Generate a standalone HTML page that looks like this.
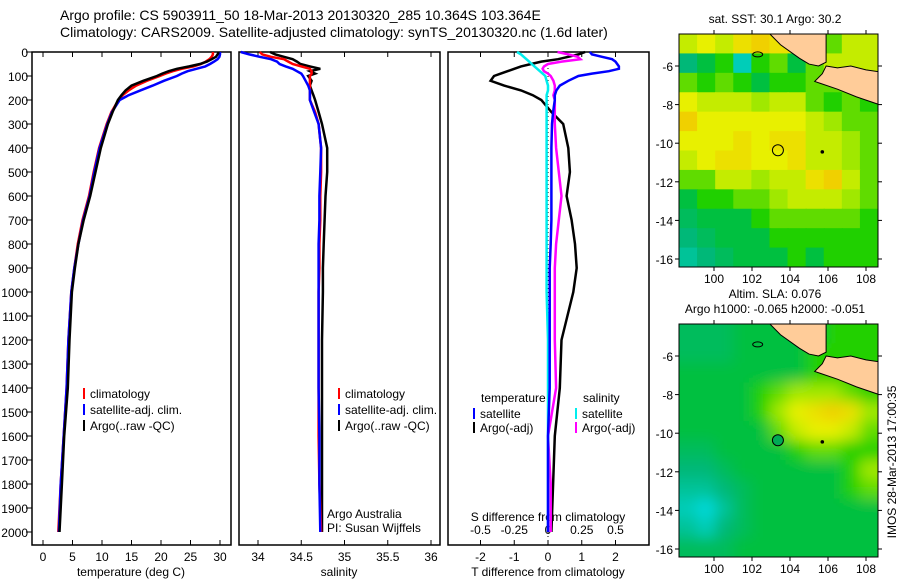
<!DOCTYPE html>
<html><head><meta charset="utf-8"><style>
body{margin:0;background:#fff;}
svg{display:block;font-family:"Liberation Sans",sans-serif;}
</style></head><body>
<svg id="fig" width="900" height="580" viewBox="0 0 900 580" xmlns="http://www.w3.org/2000/svg">
<rect width="900" height="580" fill="#fff"/>
<text x="60" y="20" font-size="14">Argo profile: CS 5903911_50 18-Mar-2013 20130320_285 10.364S 103.364E</text>
<text x="60" y="37" font-size="14">Climatology: CARS2009. Satellite-adjusted climatology: synTS_20130320.nc (1.6d later)</text>
<g id="g"></g>
<text transform="translate(896,462) rotate(-90)" text-anchor="middle" font-size="12">IMOS 28-Mar-2013 17:00:35</text>
</svg>
<script>
const depths=[0,10,20,30,40,50,60,70,80,90,100,120,140,160,180,200,250,300,400,500,600,700,800,900,1000,1200,1400,1600,1800,2000];
const depthTicks=[0,100,200,300,400,500,600,700,800,900,1000,1100,1200,1300,1400,1500,1600,1700,1800,1900,2000];
const argoT=[29.8,29.6,29.3,28.6,27.8,26.6,24.8,22.7,21.3,20.2,19.3,17.0,15.0,14.0,13.3,12.7,11.8,11.0,9.8,8.9,8.0,6.9,6.0,5.4,4.9,4.5,4.2,3.6,3.2,2.8];
const climT=[28.8,28.8,28.6,28.2,27.6,26.8,25.5,23.5,22.0,20.8,19.8,17.6,15.8,14.5,13.5,12.8,11.6,10.8,9.5,8.6,7.8,6.7,5.9,5.3,4.8,4.3,4.0,3.5,3.0,2.6];
const satT=[30.0,30.0,29.9,29.6,29.0,28.3,27.5,26.0,24.5,23.5,22.7,20.5,18.6,16.5,14.5,13.0,11.7,10.9,9.6,8.7,7.9,6.8,6.0,5.3,4.8,4.3,4.0,3.5,3.0,2.7];
const argoS=[34.14,34.2,34.3,34.4,34.45,34.49,34.6,34.72,34.6,34.66,34.58,34.62,34.6,34.62,34.64,34.66,34.70,34.74,34.80,34.80,34.78,34.77,34.76,34.75,34.75,34.74,34.74,34.74,34.74,34.74];
const climS=[34.02,34.05,34.15,34.3,34.35,34.4,34.5,34.6,34.62,34.62,34.6,34.6,34.6,34.6,34.6,34.6,34.66,34.70,34.73,34.73,34.72,34.72,34.71,34.71,34.70,34.70,34.70,34.70,34.71,34.73];
const satS=[33.8,33.9,34.02,34.15,34.22,34.25,34.32,34.4,34.45,34.5,34.52,34.55,34.58,34.6,34.6,34.6,34.65,34.70,34.73,34.72,34.71,34.71,34.70,34.70,34.70,34.70,34.70,34.71,34.71,34.72];
const satDT=[1.24,1.3,1.6,1.9,2.0,2.05,2.1,2.1,1.8,1.3,0.9,0.6,0.35,0.25,0.2,0.2,0.15,0.12,0.1,0.1,0.1,0.1,0.08,0.05,0.05,0.05,0.05,0.0,0.0,0.0];
const argoDT=[1.1,0.9,0.6,0.3,-0.2,-0.5,-0.8,-1.0,-1.2,-1.4,-1.6,-1.7,-1.3,-0.8,-0.45,-0.2,0.1,0.45,0.6,0.65,0.55,0.7,0.8,0.85,0.75,0.4,0.35,0.2,0.15,0.1];
const satDS=[-0.23,-0.2,-0.18,-0.16,-0.14,-0.12,-0.1,-0.08,-0.06,-0.04,-0.02,-0.01,0,0,-0.01,-0.01,-0.01,-0.01,-0.01,-0.01,-0.01,-0.01,-0.01,-0.01,-0.01,0,0,0,0,0];
const argoDS=[0.07,0.15,0.22,0.24,0.1,0.0,-0.03,-0.04,-0.03,0,0.02,0.04,0.05,0.05,0.04,0.05,0.05,0.05,0.06,0.08,0.1,0.08,0.06,0.05,0.05,0.05,0.06,0.0,0.02,0.02];
const tTicks=[0,5,10,15,20,25,30];
const sTicks=[34,34.5,35,35.5,36];
const dtTicks=[-2,-1,0,1,2];
const dsTicks=[-0.5,-0.25,0,0.25,0.5];
const sstGrid=[
[0.7,0.75,0.7,0.8,0.85,0.8,0.8,0.8,0.6,0.7,0.7],
[0.4,0.5,0.55,0.3,0.55,0.6,0.5,0.6,0.7,0.7,0.7],
[0.6,0.55,0.6,0.55,0.5,0.55,0.55,0.6,0.6,0.6,0.6],
[0.75,0.7,0.7,0.7,0.65,0.7,0.7,0.6,0.55,0.6,0.55],
[0.85,0.75,0.75,0.75,0.75,0.75,0.75,0.7,0.65,0.6,0.6],
[0.75,0.75,0.75,0.8,0.75,0.8,0.8,0.7,0.7,0.65,0.6],
[0.7,0.75,0.8,0.8,0.75,0.75,0.8,0.7,0.7,0.65,0.6],
[0.6,0.6,0.7,0.7,0.65,0.7,0.7,0.8,0.85,0.7,0.6],
[0.5,0.55,0.55,0.6,0.6,0.65,0.7,0.7,0.7,0.65,0.6],
[0.45,0.5,0.5,0.5,0.55,0.6,0.6,0.6,0.6,0.6,0.55],
[0.4,0.45,0.5,0.5,0.5,0.55,0.55,0.55,0.55,0.55,0.55],
[0.35,0.4,0.45,0.5,0.5,0.5,0.55,0.5,0.55,0.55,0.55]];
const slaGrid=[
[0.45,0.45,0.45,0.5,0.5,0.5,0.5,0.5,0.55,0.55,0.55],
[0.45,0.45,0.45,0.5,0.5,0.5,0.5,0.55,0.55,0.55,0.55],
[0.5,0.5,0.5,0.5,0.5,0.5,0.5,0.55,0.55,0.55,0.55],
[0.5,0.5,0.5,0.5,0.55,0.6,0.65,0.65,0.65,0.6,0.55],
[0.5,0.5,0.5,0.5,0.55,0.65,0.75,0.8,0.85,0.8,0.65],
[0.5,0.5,0.5,0.5,0.5,0.6,0.7,0.75,0.75,0.7,0.6],
[0.45,0.45,0.5,0.5,0.5,0.5,0.55,0.6,0.6,0.55,0.55],
[0.4,0.4,0.45,0.5,0.5,0.5,0.5,0.5,0.5,0.55,0.65],
[0.35,0.35,0.4,0.45,0.5,0.5,0.5,0.5,0.5,0.55,0.6],
[0.3,0.25,0.35,0.45,0.5,0.5,0.5,0.5,0.5,0.5,0.5],
[0.35,0.3,0.4,0.45,0.5,0.5,0.5,0.5,0.5,0.5,0.5],
[0.45,0.45,0.45,0.5,0.5,0.5,0.5,0.5,0.5,0.5,0.5]];
const lonTicks=[100,102,104,106,108];
const latTicks=[-6,-8,-10,-12,-14,-16];
const argoPos=[103.364,-10.364];

const NS="http://www.w3.org/2000/svg";
const G=document.getElementById('g');
function el(tag,at,parent){const e=document.createElementNS(NS,tag);for(const k in at)e.setAttribute(k,at[k]);(parent||G).appendChild(e);return e;}
const Y=d=>52+d*0.24;
const xT=t=>43+t*5.9, xS=s=>258+(s-34)*86.5, xDT=v=>548+v*33.75, xDS=v=>548+v*135;
const panels=[[32,231],[239,440],[448,649]];
panels.forEach((p,i)=>{
  const r=el('rect',{x:p[0],y:52,width:p[1]-p[0],height:493,fill:'none',stroke:'#000','stroke-width':1.5});
  
  
});
depthTicks.forEach(d=>{
  const t=el('text',{x:28,y:Y(d)+5,'text-anchor':'end','font-size':12});t.textContent=d;
  
  
  el('line',{x1:26,x2:32,y1:Y(d),y2:Y(d),stroke:'#000'});
});
function xticks(arr,f,ly){arr.forEach(v=>{
  el('line',{x1:f(v),x2:f(v),y1:52,y2:57,stroke:'#000'});
  el('line',{x1:f(v),x2:f(v),y1:540,y2:545,stroke:'#000'});
  const t=el('text',{x:f(v),y:ly,'text-anchor':'middle','font-size':12});t.textContent=v;
  
  
});}
xticks(tTicks,xT,561);xticks(sTicks,xS,561);xticks(dtTicks,xDT,561);
dsTicks.forEach(v=>{const t=el('text',{x:xDS(v),y:534,'text-anchor':'middle','font-size':12});t.textContent=v;
  
  });
[['temperature (deg C)',131],['salinity',339],['T difference from climatology',548]].forEach(a=>{
  const t=el('text',{x:a[1],y:576,'text-anchor':'middle','font-size':12});t.textContent=a[0];
  
  });
{const t=el('text',{x:548,y:521,'text-anchor':'middle','font-size':12});t.textContent='S difference from climatology';
 
 }
el('line',{x1:548,x2:548,y1:52,y2:545,stroke:'#000','stroke-dasharray':'1,3'});
function line(vals,f,color,name){
  const pts=vals.map((v,i)=>f(v).toFixed(1)+','+Y(depths[i]).toFixed(1)).join(' ');
  const p=el('polyline',{points:pts,fill:'none',stroke:color,'stroke-width':2.5});
  
  
}
line(climT,xT,'#f00','temp-climatology-line');line(satT,xT,'#00f','temp-satellite-line');line(argoT,xT,'#000','temp-argo-line');
line(argoS,xS,'#000','sal-argo-line');line(climS,xS,'#f00','sal-climatology-line');line(satS,xS,'#00f','sal-satellite-line');
line(argoDT,xDT,'#000','tdiff-argo-line');line(argoDS,xDS,'#f0f','sdiff-argo-line');line(satDS,xDS,'#0ee','sdiff-satellite-line');line(satDT,xDT,'#00f','tdiff-satellite-line');
function leg(x,y,color,txt){
  el('line',{x1:x,x2:x,y1:y-10,y2:y+1,stroke:color,'stroke-width':2});
  if(txt){const t=el('text',{x:x+6,y:y,'font-size':12});t.textContent=txt;
  
  }
}
[[398,'#f00','climatology'],[414,'#00f','satellite-adj. clim.'],[430,'#000','Argo(..raw -QC)']].forEach(a=>{leg(84,a[0],a[1],a[2]);leg(339,a[0],a[1],a[2]);});
{const t=el('text',{x:481,y:402,'font-size':12});t.textContent='temperature';}
{const t=el('text',{x:583,y:402,'font-size':12});t.textContent='salinity';}
leg(474,418,'#00f','satellite');leg(474,432,'#000','Argo(-adj)');leg(576,418,'#0ee','satellite');leg(576,432,'#f0f','Argo(-adj)');
{const t=el('text',{x:327,y:518,'font-size':12});t.textContent='Argo Australia';}
{const t=el('text',{x:327,y:532,'font-size':12});t.textContent='PI: Susan Wijffels';}

function cmap(v){const s=[[0,[0,0,160]],[0.25,[0,216,216]],[0.4,[0,184,120]],[0.5,[0,192,64]],[0.55,[32,208,0]],[0.65,[160,232,0]],[0.75,[232,240,0]],[0.85,[240,208,0]],[0.95,[240,144,0]]];
  for(let i=1;i<s.length;i++){if(v<=s[i][0]){const a=s[i-1],b=s[i],f=(v-a[0])/(b[0]-a[0]);return 'rgb('+a[1].map((c,k)=>Math.round(c+(b[1][k]-c)*f)).join(',')+')';}}return 'rgb(240,144,0)';}
const defs=el('defs',{});
function map(top,grid,name,blur,title){
  const lx=l=>714+(l-100)*19, ly=l=>top+32+(-6-l)*19.3;
  const x0=679,x1=878,y0=top,y1=top+233;
  const cp=el('clipPath',{id:'c'+top},defs);el('rect',{x:x0,y:y0,width:x1-x0,height:y1-y0},cp);
  if(blur){const f=el('filter',{id:'b'+top,x:'-10%',y:'-10%',width:'120%',height:'120%'},defs);el('feGaussianBlur',{stdDeviation:7},f);}
  const gc=el('g',{'clip-path':'url(#c'+top+')'});
  const gg=el('g',blur?{filter:'url(#b'+top+')'}:{},gc);
  const cw=(x1-x0)/11,ch=(y1-y0)/12;
  grid.forEach((row,r)=>row.forEach((v,c)=>{
    const re=el('rect',{x:x0+c*cw-(blur&&c==0?20:0),y:y0+r*ch-(blur&&r==0?20:0),width:cw+1+(blur&&(c==0||c==10)?20:0),height:ch+1+(blur&&(r==0||r==11)?20:0),fill:cmap(v)},gg);
    
    
  }));
  const land='#fc9';
  const sum=[[102.9,-4.3],[103.5,-4.9],[104.5,-5.6],[105,-5.9],[105.5,-6.0],[105.9,-5.8],[105.9,-4.3]];
  const jav=[[105.9,-6.0],[106.5,-6.1],[107.2,-6.0],[108,-6.2],[108.7,-6.3],[108.7,-8.0],[107.5,-7.6],[106.5,-7.2],[105.6,-6.9],[105.3,-6.8],[105.7,-6.4]];
  [sum,jav].forEach((P,i)=>{const p=el('polygon',{points:P.map(q=>lx(q[0])+','+ly(q[1])).join(' '),fill:land,stroke:'#000','stroke-width':1},gc);
    });
  el('ellipse',{cx:lx(102.3),cy:ly(-5.4),rx:5,ry:2.5,fill:'none',stroke:'#000'},gc);
  el('circle',{cx:lx(105.7),cy:ly(-10.45),r:1.8,fill:'#000'},gc);
  const ac=el('circle',{cx:lx(argoPos[0]),cy:ly(argoPos[1]),r:5.5,fill:blur?'#0a5':'none',stroke:'#000','stroke-width':1},gc);
  
  el('rect',{x:x0,y:y0,width:x1-x0,height:y1-y0,fill:'none',stroke:'#000'});
  lonTicks.forEach(l=>{el('line',{x1:lx(l),x2:lx(l),y1:y0-4,y2:y0,stroke:'#000'});el('line',{x1:lx(l),x2:lx(l),y1:y1,y2:y1+4,stroke:'#000'});
    const t=el('text',{x:lx(l),y:y1+16,'text-anchor':'middle','font-size':12});t.textContent=l;});
  latTicks.forEach(l=>{el('line',{x1:x0-4,x2:x0,y1:ly(l),y2:ly(l),stroke:'#000'});el('line',{x1:x1,x2:x1+4,y1:ly(l),y2:ly(l),stroke:'#000'});
    const t=el('text',{x:673,y:ly(l)+5,'text-anchor':'end','font-size':12});t.textContent=l;});
  title.forEach((s,i)=>{const t=el('text',{x:775,y:top-(title.length-1-i)*15-11,'text-anchor':'middle','font-size':12});t.textContent=s;});
}
map(34,sstGrid,'sst-map',false,['sat. SST: 30.1 Argo: 30.2']);
map(324,slaGrid,'sla-map',true,['Altim. SLA: 0.076','Argo h1000: -0.065 h2000: -0.051']);
</script>
</body></html>
